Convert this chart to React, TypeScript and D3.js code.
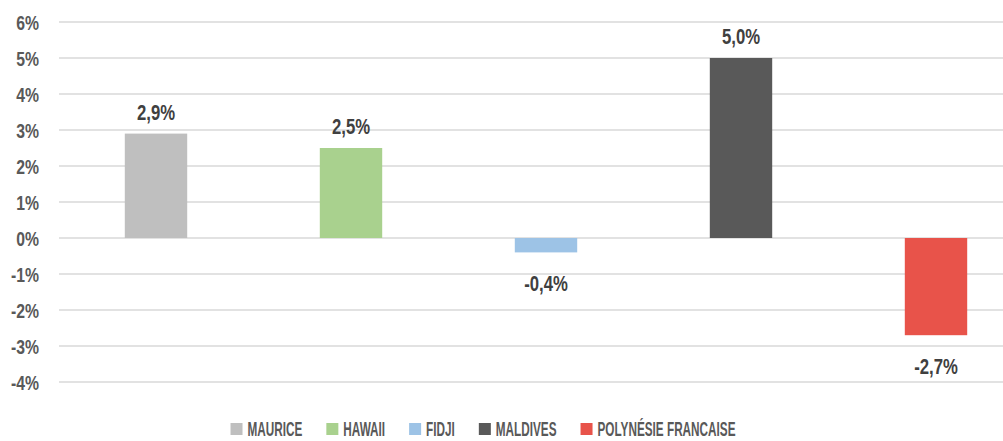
import React, { useEffect, useRef } from 'react'
import * as d3 from 'd3'

const categories = ['MAURICE', 'HAWAII', 'FIDJI', 'MALDIVES', 'POLYNÉSIE FRANCAISE']
const values = [2.9, 2.5, -0.4, 5.0, -2.7]
const colors = ['#bfbfbf', '#a9d18e', '#9dc3e6', '#595959', '#e8534a']
const yTicks = [-4, -3, -2, -1, 0, 1, 2, 3, 4, 5, 6]

const width = 1003
const height = 441
// no condensed font available, so bold Liberation Sans squeezed horizontally
const font = '"Liberation Sans", Arial, sans-serif'

const fmt = (v: number) => v.toFixed(1).replace('.', ',') + '%'

const App = () => {
  const ref = useRef<SVGSVGElement>(null)

  useEffect(() => {
    document.body.style.margin = '0'
    const svg = d3.select(ref.current)
    svg.selectAll('*').remove()

    const y = d3.scaleLinear().domain([-4, 6]).range([382, 22])
    const x = d3.scaleBand()
      .domain(categories)
      .range([58.5, 1033.5])
      .paddingInner(0.68)
      .paddingOuter(0.34)

    // gridlines
    svg.append('g').selectAll('line').data(yTicks).enter().append('line')
      .attr('x1', 59).attr('x2', width)
      .attr('y1', d => y(d)).attr('y2', d => y(d))
      .attr('stroke', '#d9d9d9').attr('stroke-width', 1.3)

    // y tick labels
    svg.append('g').selectAll('text').data(yTicks).enter().append('text')
      .attr('transform', d => 'translate(39,' + y(d) + ') scale(0.75,1)')
      .attr('dy', '0.36em')
      .attr('text-anchor', 'end')
      .attr('font-family', font).attr('font-weight', 'bold').attr('font-size', 21)
      .attr('fill', '#595959')
      .text(d => d + '%')

    const data = categories.map((c, i) => ({ c, v: values[i], color: colors[i] }))

    svg.append('g').selectAll('rect').data(data).enter().append('rect')
      .attr('x', d => x(d.c)!)
      .attr('width', x.bandwidth())
      .attr('y', d => y(Math.max(0, d.v)))
      .attr('height', d => Math.abs(y(d.v) - y(0)))
      .attr('fill', d => d.color)

    // data labels
    svg.append('g').selectAll('text').data(data).enter().append('text')
      .attr('transform', d => {
        const lx = x(d.c)! + x.bandwidth() / 2
        const ly = d.v >= 0 ? y(d.v) - 14 : y(d.v) + 39
        return 'translate(' + lx + ',' + ly + ') scale(0.76,1)'
      })
      .attr('text-anchor', 'middle')
      .attr('font-family', font).attr('font-weight', 'bold').attr('font-size', 22)
      .attr('fill', '#404040')
      .text(d => fmt(d.v))

    // legend
    const legend = svg.append('g')
    const sx = 0.56
    const items: { g: any, w: number }[] = []
    data.forEach(d => {
      const g = legend.append('g')
      g.append('rect').attr('x', 0).attr('y', -5).attr('width', 12).attr('height', 12).attr('fill', d.color)
      const t = g.append('text')
        .attr('transform', 'translate(17,0) scale(' + sx + ',1)')
        .attr('dy', '0.36em')
        .attr('font-family', font).attr('font-weight', 'bold').attr('font-size', 21)
        .attr('fill', '#595959')
        .text(d.c)
      const w = 17 + (t.node() as SVGTextElement).getComputedTextLength() * sx
      items.push({ g, w })
    })
    const gap = 24
    const total = d3.sum(items, d => d.w) + gap * (items.length - 1)
    let cx = 483 - total / 2
    items.forEach(it => {
      it.g.attr('transform', 'translate(' + cx + ',428)')
      cx += it.w + gap
    })
  }, [])

  return <svg ref={ref} width={width} height={height} style={{ display: 'block' }} />
}

export default App
